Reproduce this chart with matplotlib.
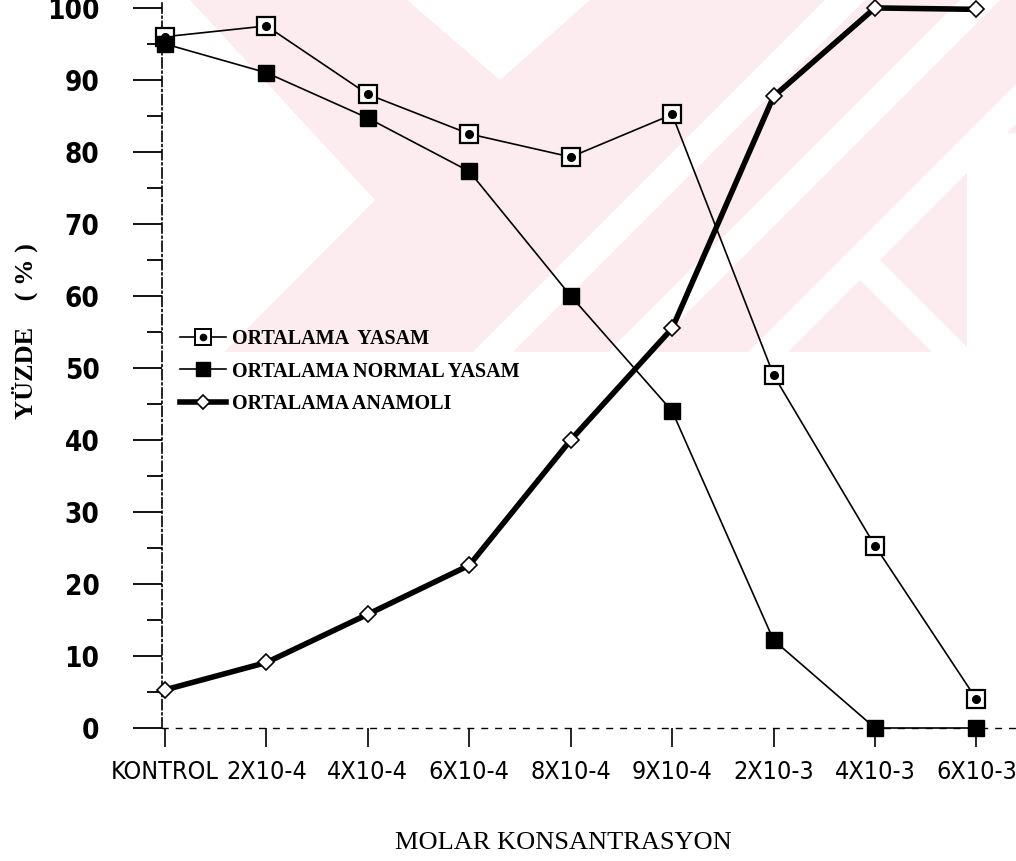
import numpy as np
import matplotlib
matplotlib.use("Agg")
import matplotlib.pyplot as plt
from matplotlib.lines import Line2D
from matplotlib.patches import Polygon, Rectangle

# === Data ===
categories = ["KONTROL", "2X10-4", "4X10-4", "6X10-4", "8X10-4",
              "9X10-4", "2X10-3", "4X10-3", "6X10-3"]
yasam = [96.0, 97.5, 88.0, 82.5, 79.3, 85.2, 49.0, 25.3, 4.0]
normal_yasam = [95.0, 91.0, 84.7, 77.3, 60.0, 44.0, 12.2, 0.0, 0.0]
anamoli = [5.3, 9.1, 15.8, 22.6, 40.0, 55.5, 87.7, 100.0, 99.8]

labels = ["ORTALAMA  YASAM", "ORTALAMA NORMAL YASAM", "ORTALAMA ANAMOLI"]

W, H = 1016, 861
fig = plt.figure(figsize=(W / 100, H / 100), dpi=100)

# === background watermark (faint pink logo) ===
bg = fig.add_axes([0, 0, 1, 1], zorder=0)
bg.set_xlim(0, W)
bg.set_ylim(H, 0)
bg.axis("off")
pink = "#fcecef"
bg.add_patch(Rectangle((140, 0), W - 140, 352, color=pink, lw=0))
white_shapes = [
    [(140, 0), (190, 0), (375, 200), (224, 352), (140, 352)],
    [(407, 0), (590, 0), (500, 80)],
    [(825, 0), (865, 0), (513, 352), (473, 352)],
    [(960, 0), (1000, 0), (648, 352), (608, 352)],
    [(1100, 0), (1140, 0), (788, 352), (748, 352)],
    [(840, 260), (880, 260), (972, 352), (932, 352)],
    [(967, 133), (W, 133), (W, 352), (967, 352)],
]
for pts in white_shapes:
    bg.add_patch(Polygon(pts, closed=True, color="white", lw=0))

# === main axes ===
ax = fig.add_axes([162 / W, 1 - 728 / H, (W - 162) / W, 728 / H], zorder=1)
ax.patch.set_alpha(0)

x = np.arange(len(categories))

ax.plot(x, yasam, color="black", lw=1.2, marker="s", ms=13,
        mfc="white", mec="black", mew=1.6, clip_on=False, zorder=3)
ax.plot(x, yasam, ls="none", marker="o", ms=5.5, color="black",
        clip_on=False, zorder=4)
ax.plot(x, normal_yasam, color="black", lw=1.2, marker="s", ms=12,
        mfc="black", mec="black", clip_on=False, zorder=3)
ax.plot(x, anamoli, color="black", lw=4, marker="D", ms=8,
        mfc="white", mec="black", mew=1.2, clip_on=False, zorder=5)

ax.set_xlim(-0.03, 8.39)
ax.set_ylim(0, 101.1)

# axes look
for s in ["top", "right"]:
    ax.spines[s].set_visible(False)
ax.spines["left"].set_linestyle((0, (6, 2, 1, 2)))
ax.spines["left"].set_linewidth(1.2)
ax.spines["bottom"].set_linestyle((0, (4, 6)))
ax.spines["bottom"].set_linewidth(1.0)

ax.set_yticks(np.arange(0, 101, 10))
ax.set_yticks(np.arange(5, 100, 10), minor=True)
ax.set_xticks(x)
ax.set_xticklabels(categories)

ax.tick_params(axis="y", which="major", direction="out", length=21, width=1.3,
               pad=24, labelsize=20)
ax.tick_params(axis="y", which="minor", direction="out", length=11, width=1.3)
ax.tick_params(axis="x", direction="out", length=14, width=1.2, pad=9,
               labelsize=18)
for t in ax.get_yticklabels():
    t.set_family("DejaVu Sans")
    t.set_fontstretch("condensed")
    t.set_fontweight("bold")
for t in ax.get_xticklabels():
    t.set_family("DejaVu Sans")
    t.set_fontstretch("condensed")

ax.set_xlabel("MOLAR KONSANTRASYON", family=["Liberation Serif", "DejaVu Serif"],
              fontsize=19)
ax.xaxis.set_label_coords(0.47, -0.143)
ax.set_ylabel("YÜZDE    ( % )", family=["Liberation Serif", "DejaVu Serif"],
              fontsize=19, fontweight="bold")
ax.yaxis.set_label_coords(-0.145, 0.545)

# legend
h1 = (Line2D([], [], color="black", lw=1.2, marker="s", ms=11, mfc="white",
             mec="black", mew=1.4),
      Line2D([], [], ls="none", marker="o", ms=4.5, color="black"))
h2 = Line2D([], [], color="black", lw=1.2, marker="s", ms=10, mfc="black")
h3 = Line2D([], [], color="black", lw=4, marker="D", ms=7, mfc="white",
            mec="black", mew=1.2)
ax.legend([h1, h2, h3], labels, loc="upper left",
          bbox_to_anchor=(0.021, 0.548), frameon=False, handlelength=2.3,
          handletextpad=0.3, labelspacing=0.62, borderpad=0, borderaxespad=0,
          prop={"family": ["Liberation Serif", "DejaVu Serif"],
                "weight": "bold", "size": 14.5})

fig.savefig("out.png", dpi=100)
